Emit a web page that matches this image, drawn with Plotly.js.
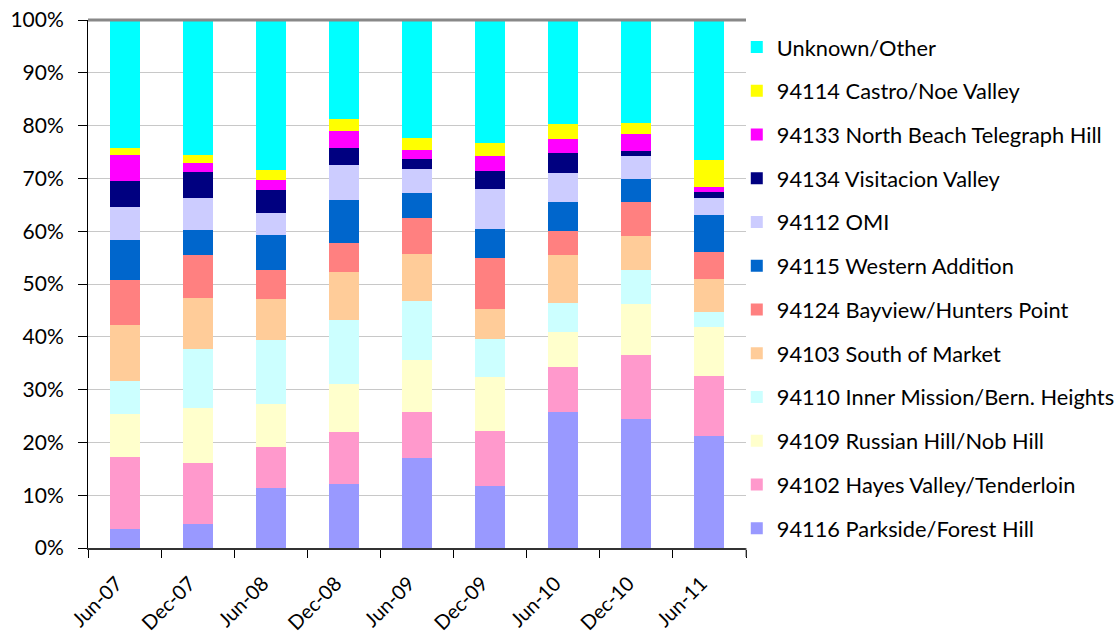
<!DOCTYPE html>
<html>
<head>
<meta charset="utf-8">
<script src="https://cdn.plot.ly/plotly-3.0.1.min.js"></script>
<style>html,body{margin:0;padding:0;background:#fff;}#chart{width:1118px;height:643px;}</style>
</head>
<body>
<div id="chart"></div>
<script>
const categories = ["Jun-07","Dec-07","Jun-08","Dec-08","Jun-09","Dec-09","Jun-10","Dec-10","Jun-11"];

const s94116 = [3.56, 4.51, 11.37, 12.13, 17.09, 11.75, 25.67, 24.52, 21.28];
const s94102 = [13.72, 11.44, 7.82, 9.92, 8.58, 10.49, 8.57, 12.01, 11.25];
const s94109 = [8.01, 10.48, 8.00, 8.95, 9.91, 10.10, 6.67, 9.72, 9.34];
const s94110 = [6.29, 11.05, 12.20, 12.20, 11.24, 7.24, 5.53, 6.47, 2.86];
const s94103 = [10.67, 9.53, 7.81, 9.14, 8.94, 5.72, 9.13, 6.46, 6.28];
const s94124 = [8.57, 8.18, 5.52, 5.51, 6.65, 9.70, 4.56, 6.26, 5.13];
const s94115 = [7.60, 4.68, 6.65, 7.97, 4.74, 5.51, 5.31, 4.37, 7.02];
const s94112 = [6.07, 6.07, 4.17, 6.65, 4.56, 7.40, 5.51, 4.37, 3.04];
const s94134 = [4.94, 4.75, 4.18, 3.23, 1.90, 3.42, 3.80, 0.95, 1.14];
const s94133 = [4.94, 1.71, 1.90, 3.22, 1.71, 2.85, 2.66, 3.22, 0.95];
const s94114 = [1.39, 1.52, 1.90, 2.28, 2.27, 2.47, 2.84, 2.09, 5.13];
const sUnknown = [24.24, 25.44, 28.48, 18.80, 22.41, 23.35, 19.75, 19.56, 26.58];

const seriesNames = [
  "94116 Parkside/Forest Hill",
  "94102 Hayes Valley/Tenderloin",
  "94109 Russian Hill/Nob Hill",
  "94110 Inner Mission/Bern. Heights",
  "94103 South of Market",
  "94124 Bayview/Hunters Point",
  "94115 Western Addition",
  "94112 OMI",
  "94134 Visitacion Valley",
  "94133 North Beach Telegraph Hill",
  "94114 Castro/Noe Valley",
  "Unknown/Other"
];
const seriesValues = [s94116, s94102, s94109, s94110, s94103, s94124, s94115, s94112, s94134, s94133, s94114, sUnknown];
const seriesColors = ["#9999FF","#FF99CC","#FFFFCC","#CCFFFF","#FFCC99","#FF8080","#0066CC","#CCCCFF","#000080","#FF00FF","#FFFF00","#00FFFF"];
const yTickVals = [0,10,20,30,40,50,60,70,80,90,100];
const yTickText = ["0%","10%","20%","30%","40%","50%","60%","70%","80%","90%","100%"];

const FONT = "'Lato', 'Open Sans', sans-serif";

const traces = seriesNames.map((name, i) => ({
  type: "bar",
  name: name,
  x: categories,
  y: seriesValues[i],
  marker: {color: seriesColors[i], line: {width: 0}},
  legendgroup: "g" + i,
  legendrank: 1000 - i,
  hoverinfo: "name+y"
}));

const layout = {
  width: 1118,
  height: 643,
  margin: {l: 88, r: 372, t: 20, b: 95, autoexpand: false},
  paper_bgcolor: "#ffffff",
  plot_bgcolor: "#ffffff",
  barmode: "stack",
  barnorm: "percent",
  bargap: 0.59,
  font: {family: FONT, size: 20, color: "#000000"},
  showlegend: true,
  legend: {
    x: 0.986, xanchor: "left",
    y: 0.988, yanchor: "top",
    traceorder: "grouped",
    tracegroupgap: 12.4,
    maxheight: 640,
    font: {family: FONT, size: 21.8, color: "#000000"},
    itemwidth: 30,
    borderwidth: 0,
    bgcolor: "rgba(0,0,0,0)"
  },
  xaxis: {
    type: "category",
    tickson: "boundaries",
    ticks: "outside",
    ticklen: 8,
    tickcolor: "#000000",
    tickangle: -45,
    ticklabelshift: -8,
    ticklabelstandoff: 14,
    tickfont: {family: FONT, size: 20, color: "#000000"},
    showline: true,
    linecolor: "#333333",
    linewidth: 2,
    showgrid: false,
    zeroline: false,
    mirror: false,
    automargin: false
  },
  yaxis: {
    range: [0, 100],
    tickvals: yTickVals,
    ticktext: yTickText,
    ticks: "outside",
    ticklen: 9,
    tickcolor: "#000000",
    ticklabelstandoff: 10,
    tickfont: {family: FONT, size: 21, color: "#000000"},
    showline: true,
    linecolor: "#000000",
    linewidth: 1,
    showgrid: true,
    gridcolor: "#C8C8C8",
    gridwidth: 1,
    zeroline: false,
    fixedrange: true,
    automargin: false
  },
  shapes: [
    {type: "line", xref: "paper", yref: "paper", x0: 0, x1: 1, y0: 1, y1: 1, line: {color: "#888888", width: 3}},
    {type: "line", xref: "paper", yref: "paper", x0: 1, x1: 1, y0: 0, y1: -0.017, line: {color: "#555555", width: 1}}
  ]
};

Plotly.newPlot("chart", traces, layout, {displayModeBar: false, staticPlot: true});
</script>
</body>
</html>
